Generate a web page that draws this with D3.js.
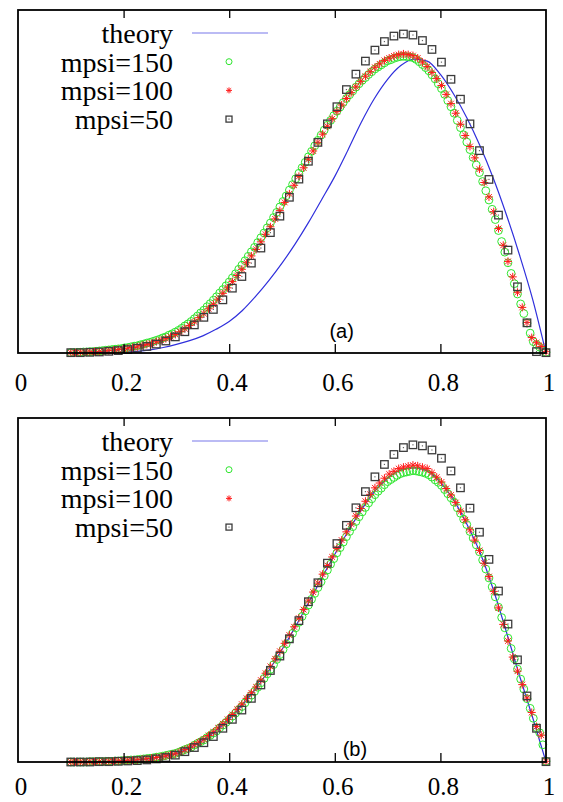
<!DOCTYPE html>
<html>
<head>
<meta charset="utf-8">
<script src="https://cdn.jsdelivr.net/npm/d3@7"></script>
<style>
  body { margin: 0; background: #fff; }
  svg { display: block; }
</style>
</head>
<body>
<div id="chart"></div>
<script>
// tick labels and legend entries
const xTicks = [0, 0.2, 0.4, 0.6, 0.8, 1];
const xTickLabels = ["0", "0.2", "0.4", "0.6", "0.8", "1"];
const seriesNames = ["theory", "mpsi=150", "mpsi=100", "mpsi=50"];
const panelNames = ["(a)", "(b)"];

// every series is sampled on an even grid from 0.1 to 1
const gridStart = 0.1;
const gridEnd = 1.0;

// theory curve, sampled every 0.025
const theoryA = [0.000,0.000,0.001,0.001,0.003,0.005,0.009,0.016,0.025,0.036,
  0.050,0.069,0.092,0.124,0.165,0.211,0.262,0.318,0.380,0.447,
  0.515,0.592,0.672,0.742,0.798,0.838,0.857,0.851,0.812,0.755,
  0.686,0.604,0.510,0.403,0.285,0.155,0.000];
const theoryB = [0.000,0.000,0.001,0.002,0.004,0.006,0.010,0.016,0.025,0.041,
  0.063,0.091,0.125,0.166,0.212,0.266,0.327,0.392,0.462,0.534,
  0.604,0.670,0.732,0.786,0.825,0.848,0.855,0.846,0.813,0.762,
  0.692,0.609,0.502,0.378,0.250,0.128,0.000];

// mpsi=150
const mpsi150A = [0.001,0.001,0.002,0.002,0.003,0.003,0.004,0.004,0.005,0.006,
  0.007,0.008,0.009,0.010,0.011,0.012,0.013,0.015,0.016,0.018,
  0.020,0.021,0.024,0.026,0.029,0.031,0.034,0.037,0.040,0.044,
  0.047,0.052,0.056,0.061,0.066,0.072,0.079,0.085,0.092,0.100,
  0.108,0.117,0.125,0.135,0.144,0.154,0.164,0.175,0.185,0.196,
  0.207,0.219,0.231,0.244,0.256,0.269,0.282,0.295,0.308,0.322,
  0.336,0.350,0.365,0.379,0.395,0.410,0.426,0.442,0.458,0.475,
  0.491,0.508,0.524,0.540,0.556,0.572,0.588,0.604,0.620,0.635,
  0.650,0.664,0.678,0.692,0.705,0.717,0.730,0.742,0.753,0.764,
  0.775,0.785,0.795,0.803,0.812,0.820,0.828,0.834,0.840,0.846,
  0.852,0.855,0.859,0.862,0.864,0.865,0.864,0.863,0.861,0.856,
  0.849,0.841,0.832,0.823,0.811,0.799,0.785,0.771,0.754,0.736,
  0.718,0.699,0.678,0.657,0.636,0.615,0.593,0.570,0.548,0.526,
  0.500,0.473,0.446,0.419,0.389,0.357,0.325,0.294,0.263,0.232,
  0.202,0.172,0.143,0.115,0.087,0.058,0.033,0.025,0.017,0.008,
  0.002];
const mpsi150B = [0.000,0.000,0.000,0.000,0.000,0.000,0.001,0.001,0.001,0.001,
  0.001,0.002,0.002,0.002,0.003,0.003,0.004,0.004,0.005,0.006,
  0.006,0.007,0.008,0.009,0.010,0.011,0.012,0.014,0.015,0.017,
  0.019,0.021,0.023,0.025,0.028,0.032,0.036,0.039,0.043,0.049,
  0.054,0.059,0.064,0.071,0.077,0.084,0.090,0.099,0.107,0.115,
  0.123,0.133,0.142,0.152,0.161,0.172,0.183,0.194,0.205,0.217,
  0.230,0.243,0.256,0.269,0.283,0.298,0.312,0.327,0.343,0.358,
  0.374,0.390,0.406,0.423,0.439,0.456,0.473,0.490,0.507,0.524,
  0.541,0.558,0.575,0.591,0.608,0.623,0.639,0.655,0.670,0.684,
  0.699,0.713,0.727,0.740,0.753,0.765,0.777,0.787,0.796,0.806,
  0.815,0.821,0.827,0.833,0.838,0.841,0.843,0.845,0.847,0.846,
  0.844,0.842,0.839,0.835,0.828,0.820,0.813,0.804,0.792,0.780,
  0.768,0.755,0.739,0.723,0.706,0.690,0.670,0.651,0.631,0.611,
  0.587,0.561,0.535,0.509,0.480,0.450,0.420,0.390,0.360,0.330,
  0.300,0.270,0.241,0.212,0.184,0.156,0.127,0.100,0.085,0.050,
  0.002];

// mpsi=100
const mpsi100A = [0.001,0.001,0.002,0.002,0.003,0.004,0.004,0.005,0.007,0.008,
  0.010,0.012,0.014,0.016,0.018,0.022,0.025,0.028,0.033,0.037,
  0.042,0.048,0.054,0.062,0.071,0.080,0.091,0.103,0.115,0.129,
  0.142,0.157,0.174,0.190,0.208,0.226,0.244,0.263,0.283,0.302,
  0.324,0.346,0.368,0.391,0.415,0.439,0.464,0.489,0.515,0.540,
  0.565,0.589,0.614,0.638,0.661,0.683,0.704,0.723,0.742,0.759,
  0.776,0.792,0.807,0.820,0.833,0.843,0.853,0.860,0.866,0.870,
  0.872,0.870,0.867,0.860,0.848,0.835,0.818,0.800,0.780,0.754,
  0.727,0.699,0.667,0.634,0.602,0.569,0.536,0.497,0.455,0.412,
  0.363,0.314,0.267,0.222,0.177,0.133,0.089,0.045,0.030,0.019,
  0.004];
const mpsi100B = [0.000,0.000,0.000,0.000,0.001,0.001,0.001,0.001,0.002,0.002,
  0.003,0.004,0.005,0.005,0.006,0.008,0.009,0.011,0.013,0.015,
  0.018,0.021,0.024,0.030,0.036,0.042,0.050,0.058,0.066,0.077,
  0.087,0.099,0.111,0.124,0.138,0.153,0.168,0.185,0.201,0.218,
  0.238,0.258,0.278,0.300,0.322,0.345,0.369,0.393,0.418,0.443,
  0.468,0.494,0.520,0.546,0.571,0.596,0.621,0.645,0.669,0.692,
  0.715,0.737,0.758,0.778,0.797,0.811,0.825,0.837,0.845,0.853,
  0.857,0.860,0.863,0.861,0.857,0.853,0.841,0.828,0.814,0.795,
  0.776,0.754,0.729,0.704,0.675,0.645,0.615,0.578,0.539,0.496,
  0.448,0.400,0.352,0.305,0.264,0.225,0.186,0.144,0.103,0.078,
  0.002];

// mpsi=50
const mpsi50A = [0.001,0.001,0.002,0.003,0.005,0.007,0.010,0.014,0.019,0.026,
  0.035,0.047,0.062,0.082,0.104,0.127,0.155,0.189,0.223,0.262,
  0.306,0.351,0.399,0.454,0.507,0.559,0.614,0.668,0.718,0.768,
  0.813,0.851,0.883,0.908,0.924,0.930,0.927,0.911,0.885,0.848,
  0.798,0.740,0.668,0.590,0.506,0.402,0.300,0.193,0.088,0.004,
  0.001];
const mpsi50B = [0.000,0.000,0.000,0.001,0.001,0.002,0.003,0.004,0.006,0.009,
  0.013,0.020,0.030,0.042,0.056,0.074,0.098,0.124,0.151,0.185,
  0.224,0.266,0.308,0.358,0.411,0.466,0.521,0.578,0.635,0.688,
  0.739,0.786,0.829,0.865,0.894,0.914,0.922,0.919,0.907,0.883,
  0.846,0.797,0.738,0.668,0.589,0.497,0.401,0.297,0.192,0.098,
  0.001];

// pair values with their grid position
function onGrid(values) {
  var n = values.length;
  return values.map((v, i) => ({ x: gridStart + i * (gridEnd - gridStart) / (n - 1), y: v }));
}

const W = 563, H = 802;
const left = 18, right = 546;
const panels = [
  { top: 10, bottom: 353, labelDy: 38, name: panelNames[0], labelX: 0.613, labelY: 0.045,
    theory: theoryA, s150: mpsi150A, s100: mpsi100A, s50: mpsi50A },
  { top: 418, bottom: 762, labelDy: 33, name: panelNames[1], labelX: 0.638, labelY: 0.016,
    theory: theoryB, s150: mpsi150B, s100: mpsi100B, s50: mpsi50B }
];

const blue = "#2f2fdc", green = "#2ee62e", red = "#ff1a1a", gray = "#3c3c3c";
const serif = "'Liberation Serif', 'Times New Roman', serif";

var svg = d3.select("#chart").append("svg")
  .attr("width", W)
  .attr("height", H);

svg.append("rect").attr("width", W).attr("height", H).attr("fill", "#fff");

const x = d3.scaleLinear().domain([0, 1]).range([left, right]);

// marker drawers
function drawCircles(g, data, r) {
  g.selectAll(null).data(data).enter().append("circle")
    .attr("cx", d => d.px).attr("cy", d => d.py).attr("r", r)
    .attr("fill", "none").attr("stroke", green).attr("stroke-width", 1);
}
function drawStars(g, data, s) {
  var d2 = s * 0.72;
  var star = "M" + (-s) + ",0H" + s + "M0," + (-s) + "V" + s +
    "M" + (-d2) + "," + (-d2) + "L" + d2 + "," + d2 +
    "M" + (-d2) + "," + d2 + "L" + d2 + "," + (-d2);
  g.selectAll(null).data(data).enter().append("path")
    .attr("transform", d => "translate(" + d.px + "," + d.py + ")")
    .attr("d", star)
    .attr("fill", "none").attr("stroke", red).attr("stroke-width", 1);
}
function drawSquares(g, data, s) {
  var sq = g.selectAll(null).data(data).enter().append("g")
    .attr("transform", d => "translate(" + d.px + "," + d.py + ")");
  sq.append("rect")
    .attr("x", -s / 2).attr("y", -s / 2).attr("width", s).attr("height", s)
    .attr("fill", "none").attr("stroke", gray).attr("stroke-width", 1.3);
  sq.append("rect")
    .attr("x", -0.6).attr("y", -0.6).attr("width", 1.2).attr("height", 1.2)
    .attr("fill", "#666");
}

panels.forEach(p => {
  const y = d3.scaleLinear().domain([0, 1]).range([p.bottom, p.top]);
  const g = svg.append("g");
  const place = arr => onGrid(arr).map(d => ({ px: x(d.x), py: y(d.y) }));

  // theory line
  const theoryPts = onGrid(p.theory);
  g.append("path")
    .datum(theoryPts)
    .attr("fill", "none")
    .attr("stroke", blue)
    .attr("stroke-width", 1.2)
    .attr("d", d3.line().x(d => x(d.x)).y(d => y(d.y)).curve(d3.curveMonotoneX));

  // simulated points, in plotting order
  drawCircles(g.append("g"), place(p.s150), 3.9);
  drawStars(g.append("g"), place(p.s100), 4);
  drawSquares(g.append("g"), place(p.s50), 7.5);

  // frame
  g.append("rect")
    .attr("x", left).attr("y", p.top)
    .attr("width", right - left).attr("height", p.bottom - p.top)
    .attr("fill", "none").attr("stroke", "#000").attr("stroke-width", 1.8);

  // bottom axis with inward ticks
  const inner = xTicks.slice(1, -1);
  const bottomAxis = g.append("g")
    .attr("transform", "translate(0," + p.bottom + ")")
    .call(d3.axisBottom(x).tickValues(inner).tickSize(-9).tickFormat(""));
  bottomAxis.select(".domain").remove();
  bottomAxis.selectAll("line").attr("stroke", "#000").attr("stroke-width", 1.3);

  const topAxis = g.append("g")
    .attr("transform", "translate(0," + p.top + ")")
    .call(d3.axisTop(x).tickValues(inner).tickSize(-8).tickFormat(""));
  topAxis.select(".domain").remove();
  topAxis.selectAll("line").attr("stroke", "#000").attr("stroke-width", 1.3);

  // tick labels
  g.selectAll(null).data(xTicks).enter().append("text")
    .attr("x", d => x(d) + 3)
    .attr("y", p.bottom + p.labelDy)
    .attr("text-anchor", "middle")
    .style("font-family", serif)
    .style("font-size", "25px")
    .attr("fill", "#000")
    .text((d, i) => xTickLabels[i]);

  // legend
  const lg = g.append("g").attr("transform", "translate(0," + (p.top + 33) + ")");
  seriesNames.forEach((name, i) => {
    lg.append("text")
      .attr("x", 173).attr("y", i * 28.7)
      .attr("text-anchor", "end")
      .style("font-family", serif)
      .style("font-size", "28px")
      .attr("fill", "#000")
      .text(name);
  });
  const sy = i => i * 28.7 - 10;
  lg.append("line")
    .attr("x1", 192).attr("x2", 268).attr("y1", sy(0)).attr("y2", sy(0))
    .attr("stroke", blue).attr("stroke-width", 1.2).attr("stroke-opacity", 0.65);
  drawCircles(lg.append("g"), [{ px: 229, py: sy(1) }], 3);
  drawStars(lg.append("g"), [{ px: 229, py: sy(2) }], 3);
  drawSquares(lg.append("g"), [{ px: 229, py: sy(3) }], 6);

  // panel label
  g.append("text")
    .attr("x", x(p.labelX))
    .attr("y", y(p.labelY))
    .attr("text-anchor", "middle")
    .style("font-family", "'Liberation Sans', Arial, sans-serif")
    .style("font-size", "20px")
    .attr("fill", "#000")
    .text(p.name);
});
</script>
</body>
</html>
